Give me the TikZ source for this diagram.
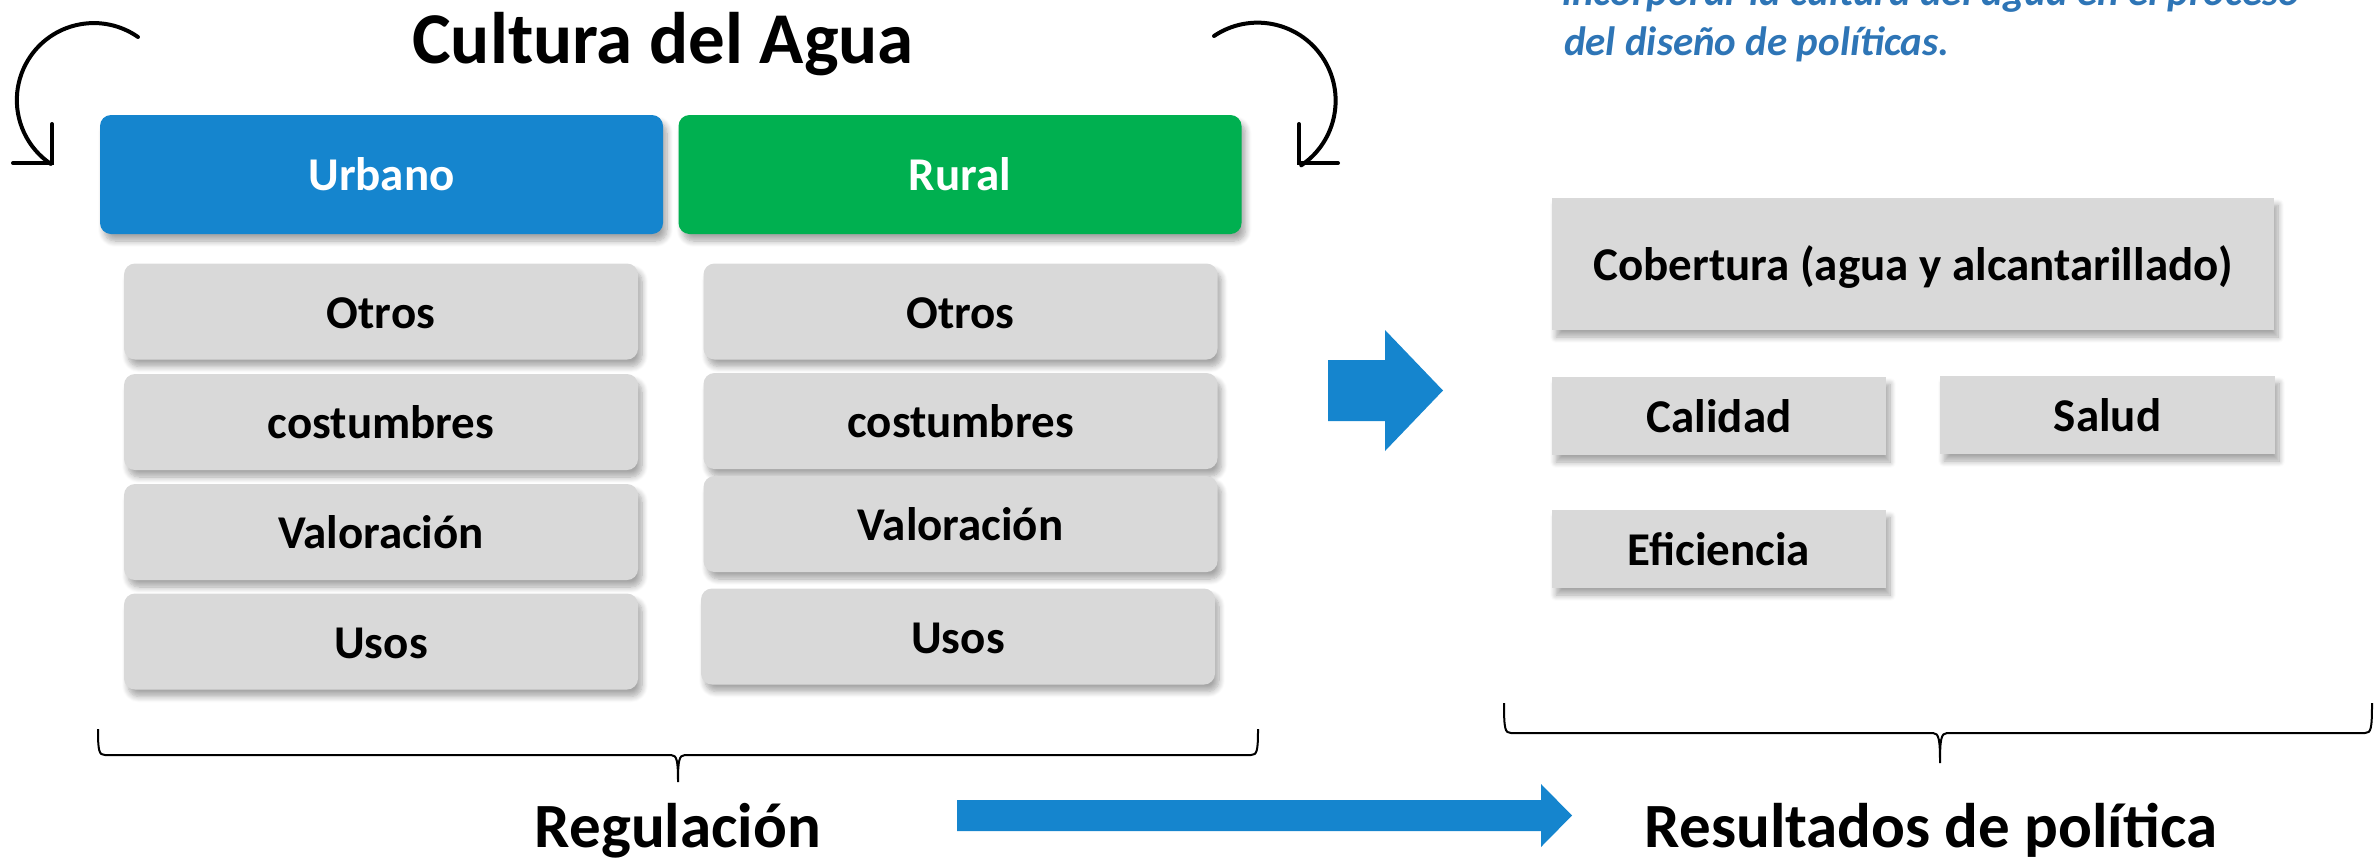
\documentclass[tikz,border=0pt]{standalone}
\usepackage{fontspec}
\setmainfont{Carlito}
\usetikzlibrary{shadows.blur}
\definecolor{hdrblue}{RGB}{21,133,206}
\definecolor{hdrgreen}{RGB}{0,176,80}
\definecolor{boxgrey}{RGB}{217,217,217}
\definecolor{noteblue}{RGB}{46,117,182}
\tikzset{
  shad/.style={blur shadow={shadow xshift=4pt, shadow yshift=-7pt, shadow blur radius=6pt, shadow blur steps=8, shadow opacity=35}},
  hdr/.style={shad, rounded corners=11pt, minimum width=563pt, minimum height=119pt, inner sep=0pt,
    text=white, font=\fontsize{47}{56}\selectfont\bfseries, text height=32pt, text depth=0pt},
  gbox/.style={shad, fill=boxgrey, rounded corners=11pt, minimum width=514pt, minimum height=96pt, inner sep=0pt,
    font=\fontsize{47}{56}\selectfont\bfseries, text height=33pt, text depth=0pt},
  sbox/.style={shad, fill=boxgrey, inner sep=0pt, minimum height=78pt, minimum width=334pt,
    font=\fontsize{47}{56}\selectfont\bfseries, text height=32pt, text depth=0pt},
  biglabel/.style={inner sep=0pt, anchor=base, font=\fontsize{63}{76}\selectfont\bfseries},
  notetext/.style={inner sep=0pt, anchor=base west, text=noteblue, font=\fontsize{41}{50}\selectfont\bfseries\itshape},
  curvy/.style={line width=4pt, line cap=round, line join=miter},
  brace/.style={line width=2pt},
  blockarrow/.style={fill=hdrblue}
}
\begin{document}
\begin{tikzpicture}[x=1pt,y=-1pt]
\useasboundingbox (0,0) rectangle (2374,857);
\begin{scope}
\clip (0,0) rectangle (2374,857);
% title
\node[inner sep=0pt, anchor=base, font=\fontsize{73}{88}\selectfont\bfseries] (title) at (663,63) {Cultura del Agua};
% curved arrows
\coordinate (la1) at (138,37);
\draw[curvy] (la1) arc[start angle=-55, end angle=-236, radius=77];
\coordinate (lt) at (52,163);
\draw[curvy] (52,124) -- (lt) -- (13,163);
\coordinate (ra1) at (1214,36);
\draw[curvy] (ra1) arc[start angle=-124, end angle=56, radius=78];
\coordinate (rt) at (1299,163);
\draw[curvy] (1299,124) -- (rt) -- (1338,163);
% headers
\node[hdr, fill=hdrblue] (urb) at (381.5,174.5) {Urbano};
\node[hdr, fill=hdrgreen] (rur) at (960,174.5) {Rural};
% left column
\node[gbox] (uo) at (381,311.5) {Otros};
\node[gbox] (uc) at (381,422) {costumbres};
\node[gbox] (uv) at (381,532) {Valoración};
\node[gbox] (uu) at (381,641.5) {Usos};
% right column
\node[gbox] (ro) at (960.5,311.5) {Otros};
\node[gbox] (rc) at (960.5,421) {costumbres};
\node[gbox] (rv) at (960.5,524) {Valoración};
\node[gbox] (ru) at (958,636.5) {Usos};
% middle block arrow
\fill[blockarrow] (1328,360) -- (1385,360) -- (1385,330) -- (1443,390.5) -- (1385,451) -- (1385,421) -- (1328,421) -- cycle;
% results boxes
\node[sbox, minimum width=722pt, minimum height=132pt] (cob) at (1913,264) {Cobertura (agua y alcantarillado)};
\node[sbox] (cal) at (1719,416) {Calidad};
\node[sbox, minimum width=335pt] (sal) at (2107.5,415) {Salud};
\node[sbox] (efi) at (1719,549) {Eficiencia};
% note text
\node[notetext] (note1) at (1562,5) {incorporar la cultura del agua en el proceso};
\node[notetext] (note2) at (1564,55) {del diseño de políticas.};
% braces
\draw[brace] (98,729) .. controls (98,751) and (99,755) .. (105,755) -- (671,755)
  .. controls (677,755) and (678,761) .. (678,782)
  .. controls (678,761) and (679,755) .. (685,755) -- (1251,755)
  .. controls (1257,755) and (1258,751) .. (1258,729);
\draw[brace] (1504,703) .. controls (1504,729) and (1505,733) .. (1511,733) -- (1933,733)
  .. controls (1939,733) and (1940,740) .. (1940,763)
  .. controls (1940,740) and (1941,733) .. (1947,733) -- (2365,733)
  .. controls (2371,733) and (2372,729) .. (2372,703);
% bottom labels
\node[biglabel] (reg) at (678,847) {Regulación};
\node[biglabel] (res) at (1931,847) {Resultados de política};
% bottom arrow
\fill[blockarrow] (957,800) -- (1541,800) -- (1541,784) -- (1572,815.5) -- (1541,847) -- (1541,831) -- (957,831) -- cycle;
\end{scope}
\end{tikzpicture}
\end{document}
